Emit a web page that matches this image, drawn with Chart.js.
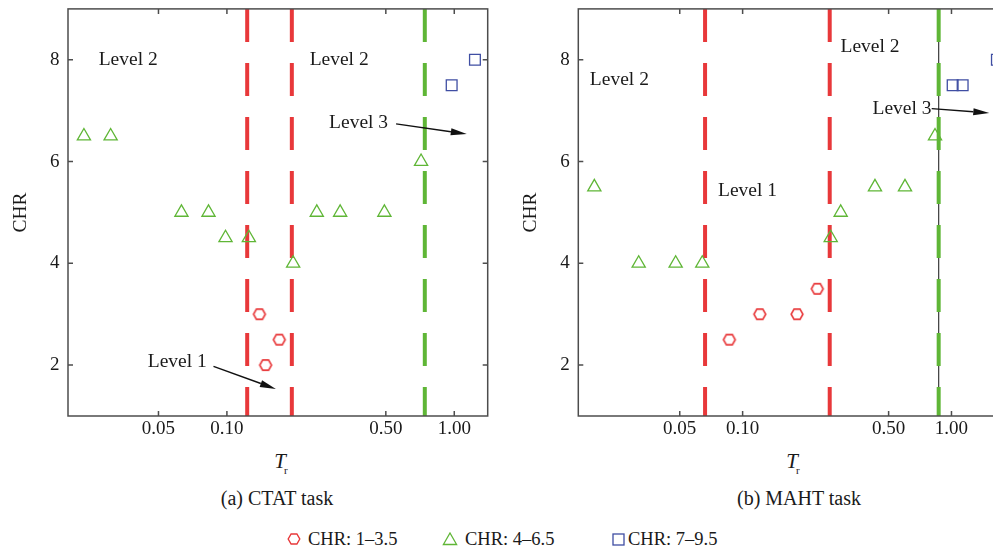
<!DOCTYPE html>
<html>
<head>
<meta charset="utf-8">
<script src="https://cdn.jsdelivr.net/npm/chart.js@4.4.1/dist/chart.umd.min.js"></script>
<style>
  html, body { margin: 0; padding: 0; background: #fff; width: 993px; height: 551px; overflow: hidden; position: relative; }
  .panel { position: absolute; top: 0; }
  .txt { position: absolute; font-family: "Liberation Serif", "Times New Roman", serif; color: #1a1a1a; white-space: nowrap; }
  .sub { font-size: 20px; line-height: 20px; transform: translateX(-50%); }
  .tr { font-size: 21px; line-height: 21px; transform: translateX(-50%); }
  .tr i { font-style: italic; }
  .tr span { font-size: 11px; position: relative; top: 6px; margin-left: -2px; }
  .leg { font-size: 18.5px; line-height: 18px; }
  .icon { position: absolute; }
</style>
</head>
<body>
<canvas id="panelA" class="panel" width="500" height="445" style="left:0"></canvas>
<canvas id="panelB" class="panel" width="520" height="445" style="left:500px"></canvas>

<div class="txt tr" style="left:281px; top:451px"><i>T</i><span>r</span></div>
<div class="txt tr" style="left:793px; top:451px"><i>T</i><span>r</span></div>
<div class="txt sub" style="left:277px; top:488px">(a) CTAT task</div>
<div class="txt sub" style="left:799px; top:488px">(b) MAHT task</div>

<svg class="icon" style="left:287px; top:533px" width="14" height="12">
  <polygon points="12.8,6 9.9,11 4.1,11 1.2,6 4.1,1 9.9,1" fill="none" stroke="#e8383a" stroke-width="1.4"/>
</svg>
<div class="txt leg" id="leg0" style="left:308px; top:530px"></div>
<svg class="icon" style="left:442px; top:532px" width="16" height="14">
  <polygon points="8,1 14.6,12.5 1.4,12.5" fill="none" stroke="#5fb636" stroke-width="1.3"/>
</svg>
<div class="txt leg" id="leg1" style="left:465px; top:530px"></div>
<svg class="icon" style="left:612px; top:533px" width="13" height="13">
  <rect x="1" y="1" width="11" height="11" fill="none" stroke="#3f4ea3" stroke-width="1.3"/>
</svg>
<div class="txt leg" id="leg2" style="left:628px; top:530px"></div>

<script>
// ---- (a) CTAT task ----
const ctatLowX  = [0.139, 0.170, 0.148];
const ctatLowY  = [3, 2.5, 2];
const ctatMidX  = [0.0235, 0.0308, 0.0631, 0.0830, 0.0986, 0.1249, 0.1956, 0.2485, 0.3148, 0.4928, 0.7145];
const ctatMidY  = [6.5, 6.5, 5, 5, 4.5, 4.5, 4, 5, 5, 5, 6];
const ctatHighX = [0.974, 1.233];
const ctatHighY = [7.5, 8];
const ctatRedLines = [0.1228, 0.193];
const ctatGreenLine = 0.742;
const ctatNotes  = [['Level 2', 0.0368, 8], ['Level 2', 0.3116, 8], ['Level 3', 0.3795, 6.77], ['Level 1', 0.0605, 2.06]];
const ctatArrows = [[0.5548, 6.74, 1.135, 6.54], [0.0873, 1.975, 0.1642, 1.531]];

// ---- (b) MAHT task ----
const mahtLowX  = [0.0864, 0.1208, 0.1822, 0.2278];
const mahtLowY  = [2.5, 3, 3, 3.5];
const mahtMidX  = [0.0195, 0.0318, 0.0478, 0.0641, 0.2641, 0.2948, 0.4302, 0.599, 0.834];
const mahtMidY  = [5.5, 4, 4, 4, 4.5, 5, 5.5, 5.5, 6.5];
const mahtHighX = [1.013, 1.131, 1.65];
const mahtHighY = [7.5, 7.5, 8];
const mahtRedLines = [0.0661, 0.2612];
const mahtGreenLine = 0.8683;
const mahtNotes  = [['Level 2', 0.0257, 7.6], ['Level 2', 0.4073, 8.26], ['Level 1', 0.1056, 5.43], ['Level 3', 0.5795, 7.04]];
const mahtArrows = [[0.8039, 7.04, 1.517, 6.955]];

const xTicks = [0.05, 0.1, 0.5, 1];
const yTicks = [2, 4, 6, 8];
const legendLabels = ['CHR: 1\u20133.5', 'CHR: 4\u20136.5', 'CHR: 7\u20139.5'];

const RED = '#e8383a', GREEN = '#5fb636', BLUE = '#3f4ea3';
const SERIF = '"Liberation Serif", "Times New Roman", serif';

legendLabels.forEach((t, i) => { document.getElementById('leg' + i).textContent = t; });

Chart.defaults.font.family = SERIF;
Chart.defaults.color = '#1a1a1a';

function pts(xs, ys) {
    return xs.map((x, i) => ({ x, y: ys[i] }));
}

// hexagon marker (no built-in style for it)
function hexagonIcon(color) {
    const c = document.createElement('canvas');
    c.width = 16; c.height = 14;
    const g = c.getContext('2d');
    g.strokeStyle = color;
    g.lineWidth = 1.6;
    g.beginPath();
    for (let i = 0; i < 6; i++) {
        const a = i * Math.PI / 3;
        const px = 8 + 5.9 * Math.cos(a), py = 7 + 5.9 * Math.sin(a);
        if (i === 0) g.moveTo(px, py); else g.lineTo(px, py);
    }
    g.closePath();
    g.stroke();
    return c;
}

function vline(x, color, width, dash, order) {
    return {
        type: 'line',
        data: [{ x, y: 9 }, { x, y: 1 }],
        borderColor: color,
        borderWidth: width,
        borderDash: dash,
        pointRadius: 0,
        fill: false,
        order
    };
}

function markers(data, style, color) {
    return {
        data,
        pointStyle: style,
        pointRadius: 7.6,
        pointBorderWidth: 1.3,
        borderColor: color,
        backgroundColor: 'rgba(0,0,0,0)',
        clip: false,
        order: 0
    };
}

// frame, inward ticks on all sides, text notes and arrows
const framePlugin = {
    id: 'frame',
    afterDatasetsDraw(chart, args, opts) {
        const { ctx, chartArea: a, scales: { x, y } } = chart;
        ctx.save();
        ctx.strokeStyle = '#4d4d4d';
        ctx.lineWidth = 1.5;
        ctx.strokeRect(a.left, a.top, a.right - a.left, a.bottom - a.top);
        ctx.beginPath();
        x.ticks.forEach(t => {
            const px = x.getPixelForValue(t.value);
            ctx.moveTo(px, a.bottom); ctx.lineTo(px, a.bottom - 5);
            ctx.moveTo(px, a.top); ctx.lineTo(px, a.top + 5);
        });
        y.ticks.forEach(t => {
            const py = y.getPixelForValue(t.value);
            ctx.moveTo(a.left, py); ctx.lineTo(a.left + 5, py);
            ctx.moveTo(a.right, py); ctx.lineTo(a.right - 5, py);
        });
        ctx.stroke();

        ctx.fillStyle = '#1a1a1a';
        ctx.font = '19.5px ' + SERIF;
        ctx.textAlign = 'center';
        ctx.textBaseline = 'middle';
        (opts.notes || []).forEach(([text, vx, vy]) => {
            ctx.fillText(text, x.getPixelForValue(vx), y.getPixelForValue(vy));
        });

        ctx.strokeStyle = '#111';
        ctx.fillStyle = '#111';
        ctx.lineWidth = 1.4;
        (opts.arrows || []).forEach(([x0, y0, x1, y1]) => {
            const px0 = x.getPixelForValue(x0), py0 = y.getPixelForValue(y0);
            const px1 = x.getPixelForValue(x1), py1 = y.getPixelForValue(y1);
            const ang = Math.atan2(py1 - py0, px1 - px0);
            const len = 16, half = 3.6;
            const bx = px1 - len * Math.cos(ang), by = py1 - len * Math.sin(ang);
            ctx.beginPath();
            ctx.moveTo(px0, py0);
            ctx.lineTo(bx, by);
            ctx.stroke();
            ctx.beginPath();
            ctx.moveTo(px1, py1);
            ctx.lineTo(bx - half * Math.sin(ang), by + half * Math.cos(ang));
            ctx.lineTo(bx + half * Math.sin(ang), by - half * Math.cos(ang));
            ctx.closePath();
            ctx.fill();
        });
        ctx.restore();
    }
};

function makePanel(id, cfg) {
    const datasets = [
        markers(pts(cfg.lowX, cfg.lowY), hexagonIcon(RED), RED),
        markers(pts(cfg.midX, cfg.midY), 'triangle', GREEN),
        markers(pts(cfg.highX, cfg.highY), 'rect', BLUE),
        vline(cfg.green, GREEN, 4, [33, 21], 1),
        ...cfg.red.map(v => vline(v, RED, 4, [33, 21], 1))
    ];
    if (cfg.blackLine) datasets.push(vline(cfg.green, '#3a3a3a', 1.2, [], 2));

    return new Chart(document.getElementById(id), {
        type: 'scatter',
        data: { datasets },
        options: {
            responsive: false,
            animation: false,
            layout: { padding: { top: 6.5, right: cfg.padRight, left: 0, bottom: 0 } },
            plugins: {
                legend: { display: false },
                tooltip: { enabled: false },
                frame: { notes: cfg.notes, arrows: cfg.arrows }
            },
            scales: {
                x: {
                    type: 'logarithmic',
                    min: cfg.xMin,
                    max: cfg.xMax,
                    afterBuildTicks: s => { s.ticks = xTicks.map(v => ({ value: v })); },
                    afterFit: s => { s.height = 29; s.paddingLeft = 0; s.paddingRight = 0; },
                    grid: { display: false, drawTicks: false },
                    border: { display: false },
                    ticks: {
                        autoSkip: false,
                        maxRotation: 0,
                        padding: 2,
                        color: '#1a1a1a',
                        font: { size: 19 },
                        callback: v => Number(v).toFixed(2)
                    }
                },
                y: {
                    min: 1,
                    max: 9,
                    afterBuildTicks: s => { s.ticks = yTicks.map(v => ({ value: v })); },
                    afterFit: s => { s.width = cfg.yWidth; s.paddingTop = 0; s.paddingBottom = 0; },
                    grid: { display: false, drawTicks: false },
                    border: { display: false },
                    ticks: { padding: 8.5, color: '#1a1a1a', font: { size: 19 } },
                    title: {
                        display: true,
                        text: 'CHR',
                        color: '#1a1a1a',
                        font: { size: 19.5 },
                        padding: { top: cfg.titlePad, bottom: 0 }
                    }
                }
            }
        },
        plugins: [framePlugin]
    });
}

makePanel('panelA', {
    lowX: ctatLowX, lowY: ctatLowY,
    midX: ctatMidX, midY: ctatMidY,
    highX: ctatHighX, highY: ctatHighY,
    red: ctatRedLines, green: ctatGreenLine,
    notes: ctatNotes, arrows: ctatArrows,
    xMin: 0.02, xMax: 1.403,
    yWidth: 68, padRight: 12.3, titlePad: 9
});

makePanel('panelB', {
    lowX: mahtLowX, lowY: mahtLowY,
    midX: mahtMidX, midY: mahtMidY,
    highX: mahtHighX, highY: mahtHighY,
    red: mahtRedLines, green: mahtGreenLine, blackLine: true,
    notes: mahtNotes, arrows: mahtArrows,
    xMin: 0.01634, xMax: 1.67,
    yWidth: 78.3, padRight: 22, titlePad: 19.5
});
</script>
</body>
</html>
